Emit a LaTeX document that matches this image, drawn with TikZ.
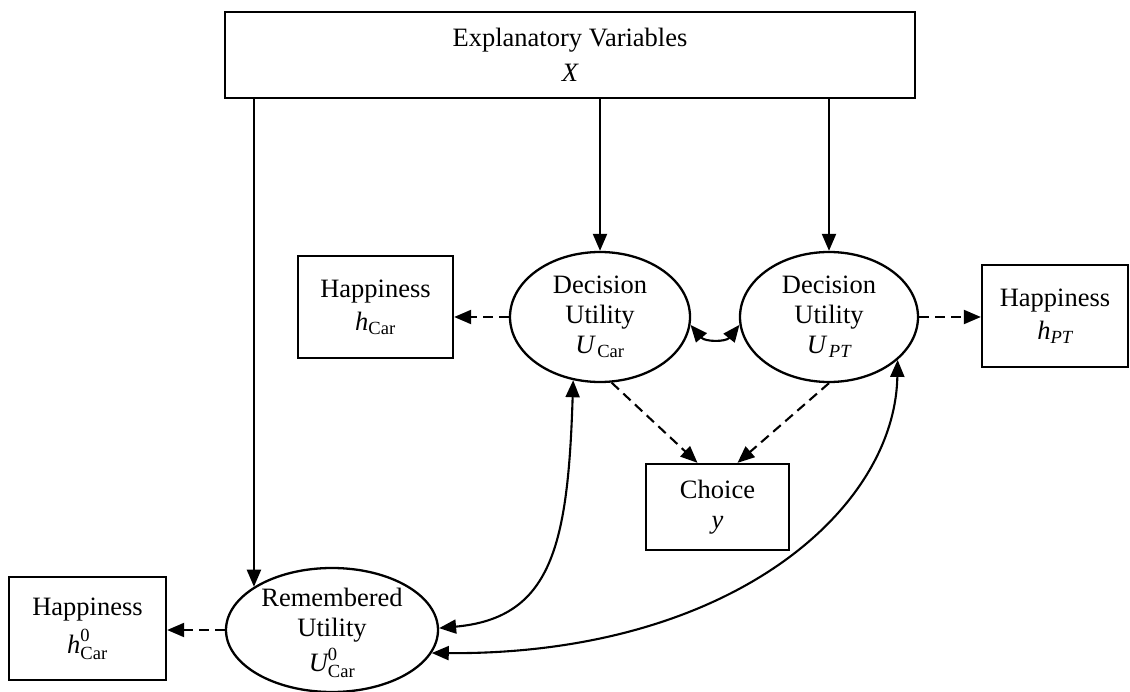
\documentclass[tikz,border=0pt]{standalone}
\usepackage{fontspec}
\setmainfont{Liberation Serif}
\usepackage{amsmath}
\usetikzlibrary{arrows.meta,shapes.geometric}

% italic variable set in the text font inside math mode
\newcommand\mvar[1]{\text{\itshape #1}}

\begin{document}
\begin{tikzpicture}[x=1pt,y=-1pt,
  every node/.style={font=\fontsize{26.5}{30}\selectfont},
  pbox/.style={draw, line width=2.3pt, rectangle, inner sep=0pt, align=center},
  oval/.style={draw, line width=2.3pt, ellipse, inner sep=0pt},
  otext/.style={align=center, inner sep=0pt},
  tip/.tip={Triangle[length=17pt,width=14pt]},
  link/.style={line width=2.1pt, -tip},
  dlink/.style={link, dash pattern=on 10pt off 6pt},
  twin/.style={line width=2.1pt, tip-tip},
]
\useasboundingbox (0,0) rectangle (1130,692);

% boxes
\node[pbox, minimum width=690pt, minimum height=86pt] (top) at (570,55)
  {Explanatory Variables\\[5pt] {\itshape X}};
\node[pbox, minimum width=155pt, minimum height=102pt] (hcar) at (375.5,307)
  {Happiness\\[3pt] $\mvar{h}_{\text{Car}}$};
\node[pbox, minimum width=146pt, minimum height=102pt] (hpt) at (1055,316)
  {Happiness\\[3pt] $\mvar{h}_{\mvar{PT}}$};
\node[pbox, minimum width=143pt, minimum height=86pt] (choice) at (717.5,507)
  {Choice\\ {\itshape y}};
\node[pbox, minimum width=157pt, minimum height=103pt] (hzero) at (87.5,628.5)
  {Happiness\\[8pt] $\mvar{h}^{\text{0}}_{\text{Car}}$};

% utility ellipses
\node[oval, minimum width=180pt, minimum height=130pt] (ucar) at (600,317) {};
\node[otext] (ucartext) at (ucar) {Decision\\ Utility\\ $\mvar{U}_{\,\text{Car}}$};
\node[oval, minimum width=178pt, minimum height=130pt] (upt) at (829,317) {};
\node[otext] (upttext) at (upt) {Decision\\ Utility\\ $\mvar{U}_{\,\mvar{PT}}$};
\node[oval, minimum width=212pt, minimum height=124pt] (rem) at (332,630) {};
\node[otext] (remtext) at ([yshift=-3pt]rem.center)
  {Remembered\\ Utility\\[5pt] $\mvar{U}^{\text{0}}_{\text{Car}}$};

% explanatory variables feed the utilities
\draw[link] (top.south -| rem.151) -- (rem.151);
\draw[link] (top.south -| ucar.north) -- (ucar.north);
\draw[link] (top.south -| upt.north) -- (upt.north);

% happiness indicators
\draw[dlink] (ucar.west) -- (ucar.west -| hcar.east);
\draw[dlink] (upt.east) -- (upt.east -| hpt.west);
\draw[dlink] (rem.west) -- (rem.west -| hzero.east);

% choice indicators
\draw[dlink] (ucar.-80) -- ([xshift=-20pt]choice.north);
\draw[dlink] (upt.-90) -- ([xshift=20pt]choice.north);

% correlations
\draw[twin] (ucar.-5) .. controls (705,342) and (726,342) .. (upt.185);
\draw[twin] (ucar.247) .. controls (568,545) and (552,618) .. (rem.1);
\draw[twin] (upt.-32) .. controls (895,510) and (730,655) .. (rem.-13);
\end{tikzpicture}
\end{document}
